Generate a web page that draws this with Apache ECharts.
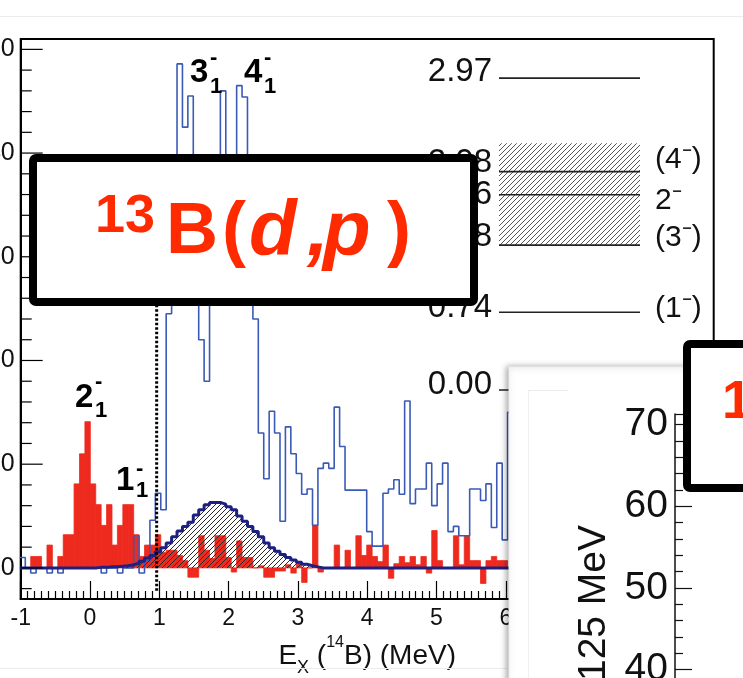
<!DOCTYPE html>
<html lang="en">
<head>
<meta charset="UTF-8">
<title>13B(d,p)</title>
<script src="https://cdn.jsdelivr.net/npm/echarts@6.0.0/dist/echarts.min.js"></script>
<style>
  html, body { margin: 0; padding: 0; background: #fff; }
  #main { width: 743px; height: 678px; }
</style>
</head>
<body>
<div id="main"></div>
<script>
// histogram binning (MeV)
var binStart = -1.012;
var binW = 0.0782;

// blue outline histogram, one value per bin
var blueCounts = [
  1.0, 0, -0.5, 0, 0, -0.5, 0, -0.5, 0, 0,
  0, 0, 0, 0, 0, -0.5, 0, 0, -0.5, 0,
  0, 3.1, -0.5, 0.7, 4.6, 7.2, 5.6, 24.5, 33, 48.6,
  42.5, 45.5, 35, 22.0, 18.0, 30, 35, 46.0, 36, 39.8,
  46.5, 45.4, 32, 24.0, 13.0, 8.6, 15.1, 13.0, 4.5, 13.6,
  11.0, 9.1, 7.1, 7.6, 4.1, 9.6, 10.1, 9.6, 15.5, 11.7,
  7.5, 7.5, 7.5, 7.5, 3.5, 2.1, 2.1, 7.2, 7.6, 8.5,
  7.1, 16.1, 6.2, 7.6, 7.6, 10.1, 6.0, 8.1, 10.1, 3.5,
  4.0, 3.1, 3.1, 7.6, 7.6, 6.5, 8.1, 3.9, 10.1, 2.7,
  15.0
];

// red filled histogram
var redCounts = [
  0, 0, 1.1, 1.1, 0, 2.2, 0, 1.1, 3.2, 3.2,
  8.1, 11.0, 14.1, 8.1, 6.1, 4.1, 6.1, 2.2, 4.1, 6.1,
  6.1, 3.2, 1.1, 2.2, 2.2, 3.2, 1.5, 1.7, 1.7, 1.2,
  0.7, -0.9, -0.9, 3.1, 1.7, 0.9, 3.1, 3.1, 1.0, -0.4,
  2.6, 1.0, 1.0, 0, 0.2, -0.9, -0.9, -0.3, -0.3, 0.3,
  -0.5, 0.6, -1.4, 0, 4.1, -0.4, 0, 0, 2.2, 0,
  1.7, 0, 3.1, 1.2, 2.2, 1.1, 0.6, 2.2, -1.0, 0.4,
  1.1, 0.5, 1.1, 0.3, 1.1, -0.5, 3.6, 0.7, 0, 0,
  3.1, 0.3, 3.1, 0.7, 0.7, -1.5, 0.7, 1.1, 0.7, 0.7
];

// navy background estimate (hatched)
var bgCounts = [
  0, 0, 0, 0, 0, 0, 0, 0, 0, 0,
  0, 0, 0, 0, 0.05, 0.05, 0.1, 0.1, 0.15, 0.2,
  0.3, 0.45, 0.65, 0.95, 1.2, 1.55, 1.95, 2.4, 3.0, 3.55,
  4.0, 4.4, 5.1, 5.6, 6.1, 6.3, 6.3, 6.15, 5.9, 5.6,
  5.0, 4.5, 4.0, 3.5, 3.0, 2.4, 1.95, 1.6, 1.3, 1.0,
  0.75, 0.55, 0.35, 0.2, 0.1, 0, 0, 0, 0, 0,
  0, 0, 0, 0, 0, 0, 0, 0, 0, 0,
  0, 0, 0, 0, 0, 0, 0, 0, 0, 0,
  0, 0, 0, 0, 0, 0, 0, 0, 0, 0,
  0
];

// y axis ticks of the spectrum
var yMajorTicks = [0, 10, 20, 30, 40, 50];
var yMinorTicks = [-2, 0, 2, 4, 6, 8, 10, 12, 14, 16, 18, 20, 22, 24, 26, 28, 30, 32, 34, 36, 38, 40, 42, 44, 46, 48, 50];

// level scheme of 14B
var levelEnergy = [2.97, 2.08, 1.86, 1.38, 0.74, 0.00];
var levelText = ['2.97', '2.08', '1.86', '1.38', '0.74', '0.00'];
var levelSpin = ['', '(4\u207B)', '2\u207B', '(3\u207B)', '(1\u207B)', ''];
var levelBand = [1.38, 2.35];

// dotted threshold line
var threshold = 0.962;

var FONT = '"Liberation Sans", Arial, sans-serif';
var RED = '#ee2a1e';
var BLUE = '#3a5ab6';
var NAVY = '#1c2080';

function hatch(step, color) {
  var c = document.createElement('canvas');
  c.width = step; c.height = step;
  var g = c.getContext('2d');
  g.strokeStyle = color;
  g.lineWidth = 1;
  g.beginPath();
  g.moveTo(0, step); g.lineTo(step, 0);
  g.moveTo(-1, 1); g.lineTo(1, -1);
  g.moveTo(step - 1, step + 1); g.lineTo(step + 1, step - 1);
  g.stroke();
  return { image: c, repeat: 'repeat' };
}

function stepData(vals) {
  var pts = vals.map(function (v, j) { return [binStart + binW * j, v]; });
  pts.push([binStart + binW * vals.length, vals[vals.length - 1]]);
  return pts;
}

var chart = echarts.init(document.getElementById('main'));

// label pieces for the peaks (digit, subscript 1, superscript minus)
function peak(d, x, y, dySub, dySup) {
  return [
    { type: 'text', x: x, y: y, z: 5, style: { text: d, fill: '#000', font: 'bold 33px ' + FONT, verticalAlign: 'middle' } },
    { type: 'text', x: x + 20, y: y + dySub, z: 5, style: { text: '1', fill: '#000', font: 'bold 22px ' + FONT, verticalAlign: 'middle' } },
    { type: 'text', x: x + 20, y: y + dySup, z: 5, style: { text: '-', fill: '#000', font: 'bold 22px ' + FONT, verticalAlign: 'middle' } }
  ];
}

var graphics = [];
// faint page edges
graphics.push({ type: 'line', z: 1, shape: { x1: 0, y1: 16.5, x2: 743, y2: 16.5 }, style: { stroke: '#ececec', lineWidth: 1 } });
graphics.push({ type: 'line', z: 1, shape: { x1: 0, y1: 668.5, x2: 507, y2: 668.5 }, style: { stroke: '#ececec', lineWidth: 1 } });

graphics = graphics.concat(peak('3', 190, 73, 14, -15));
graphics = graphics.concat(peak('4', 244, 73, 14, -15));
graphics = graphics.concat(peak('2', 75, 398, 13, -16));
graphics = graphics.concat(peak('1', 116, 481, 10, -12));

// bottom-right panel (second figure)
graphics.push({ type: 'rect', z: 10, shape: { x: 509, y: 367, width: 300, height: 400 },
  style: { fill: '#fff', stroke: '#eeeeee', lineWidth: 1, shadowBlur: 6, shadowOffsetX: -2, shadowColor: 'rgba(0,0,0,0.35)' } });
graphics.push({ type: 'line', z: 11, shape: { x1: 528.5, y1: 390, x2: 528.5, y2: 678 }, style: { stroke: '#f0f0f0', lineWidth: 1 } });
graphics.push({ type: 'line', z: 11, shape: { x1: 528, y1: 390.5, x2: 568, y2: 390.5 }, style: { stroke: '#ebebeb', lineWidth: 1 } });
graphics.push({ type: 'text', z: 21, x: 594, y: 603, rotation: Math.PI / 2,
  style: { text: '125 MeV', fill: '#111', font: '39px ' + FONT, align: 'center', verticalAlign: 'middle' } });

// top-right box
graphics.push({ type: 'rect', z: 30, shape: { x: 687, y: 344, width: 200, height: 144, r: 3 },
  style: { fill: '#fff', stroke: '#000', lineWidth: 8 } });
graphics.push({ type: 'text', z: 31, x: 722, y: 403,
  style: { text: '13', fill: '#ff2a00', font: 'bold 54px ' + FONT, verticalAlign: 'middle' } });

// main reaction box
graphics.push({ type: 'rect', z: 30, shape: { x: 33, y: 158, width: 441, height: 144, r: 3 },
  style: { fill: '#fff', stroke: '#000', lineWidth: 8 } });
var boxParts = [
  ['13', 95, 217, 'bold 54px'],
  ['B', 166, 233, 'bold 72px'],
  ['(', 222, 233, 'bold 72px'],
  ['d', 249, 233, 'italic bold 78px'],
  [',', 307, 233, 'italic bold 78px'],
  ['p', 323, 233, 'italic bold 78px'],
  [')', 387, 233, 'bold 72px']
];
boxParts.forEach(function (b) {
  graphics.push({ type: 'text', z: 31, x: b[1], y: b[2],
    style: { text: b[0], fill: '#ff2a00', font: b[3] + ' ' + FONT, verticalAlign: 'middle' } });
});

var leftDy = [-6, -9, 0, -8, -4, -5];
var spinDy = [0, -12, 6, -7, -4, 0];

var option = {
  animation: false,
  backgroundColor: '#fff',
  grid: [
    { left: 20.7, right: 743 - 713.7, top: 39, bottom: 678 - 599, outerBoundsMode: 'none', containLabel: false,
      show: true, borderColor: '#000', borderWidth: 2, backgroundColor: 'transparent' },
    { left: 675, top: 414, width: 60, height: 337.4, outerBoundsMode: 'none', containLabel: false },
    { left: 499, top: 54, width: 141, height: 336, outerBoundsMode: 'none', containLabel: false }
  ],
  xAxis: [
    {
      type: 'value', gridIndex: 0, min: -1, max: 9, interval: 1,
      axisLine: { show: true, onZero: false, lineStyle: { color: '#000', width: 2 } },
      axisTick: { inside: true, length: 18, lineStyle: { color: '#000', width: 1.2 } },
      minorTick: { show: true, splitNumber: 10, length: 8, lineStyle: { color: '#000', width: 1.2 } },
      splitLine: { show: false },
      axisLabel: { fontSize: 23, color: '#111', fontFamily: FONT, margin: 8 },
      name: '{e|E}{s|X} ({p|14}B) (MeV)',
      nameLocation: 'middle', nameGap: 21,
      nameTextStyle: {
        color: '#111', fontFamily: FONT, fontSize: 28,
        rich: {
          e: { fontSize: 28, fontFamily: FONT, color: '#111', lineHeight: 42 },
          s: { fontSize: 18, fontFamily: FONT, color: '#111', lineHeight: 18, verticalAlign: 'bottom' },
          p: { fontSize: 16, fontFamily: FONT, color: '#111', lineHeight: 26, verticalAlign: 'top' }
        }
      }
    },
    { type: 'value', gridIndex: 1, show: false, min: 0, max: 1 },
    { type: 'value', gridIndex: 2, show: false, min: 0, max: 1 }
  ],
  yAxis: [
    {
      type: 'value', gridIndex: 0, min: -3, max: 51,
      axisLine: { show: true, onZero: false, lineStyle: { color: '#000', width: 2 } },
      axisTick: { show: false },
      axisLabel: { fontSize: 25, color: '#111', fontFamily: FONT, margin: 6, customValues: yMajorTicks },
      splitLine: { show: false }
    },
    {
      type: 'value', gridIndex: 1, min: 30, max: 71.3, interval: 10, z: 20,
      axisLine: { show: true, onZero: false, lineStyle: { color: '#111', width: 1.5 } },
      axisTick: { inside: true, length: 17, lineStyle: { color: '#111', width: 1.2 } },
      minorTick: { show: true, splitNumber: 5, length: 8, lineStyle: { color: '#111', width: 1.2 } },
      axisLabel: { fontSize: 39, color: '#111', fontFamily: FONT, margin: 7, showMaxLabel: false },
      splitLine: { show: false }
    },
    { type: 'value', gridIndex: 2, show: false, min: 0, max: 3.2 }
  ],
  series: [
    {
      // inward y ticks of the spectrum, placed through the axis scale
      type: 'custom', xAxisIndex: 0, yAxisIndex: 0, z: 6, clip: false, silent: true,
      data: yMinorTicks.map(function (v) { return [-1, v]; }),
      renderItem: function (params, api) {
        var v = api.value(1);
        var p = api.coord([-1, v]);
        var len = yMajorTicks.indexOf(v) >= 0 ? 22 : 11;
        return { type: 'line', shape: { x1: p[0], y1: p[1], x2: p[0] + len, y2: p[1] },
          style: { stroke: '#000', lineWidth: 1.2 } };
      }
    },
    {
      type: 'custom', xAxisIndex: 0, yAxisIndex: 0, z: 2, clip: true,
      data: redCounts.map(function (v, j) { return [binStart + binW * j, v]; }),
      renderItem: function (params, api) {
        var x0 = api.value(0), v = api.value(1);
        var p0 = api.coord([x0, 0]);
        var p1 = api.coord([x0 + binW, v]);
        return {
          type: 'rect',
          shape: { x: p0[0], y: Math.min(p0[1], p1[1]), width: p1[0] - p0[0], height: Math.abs(p1[1] - p0[1]) },
          style: { fill: RED, stroke: RED, lineWidth: 0.8 }
        };
      }
    },
    {
      type: 'line', xAxisIndex: 0, yAxisIndex: 0, z: 3, step: 'end', showSymbol: false, symbol: 'none',
      data: stepData(blueCounts),
      lineStyle: { color: BLUE, width: 1.6 }
    },
    {
      type: 'line', xAxisIndex: 0, yAxisIndex: 0, z: 4, step: 'end', showSymbol: false, symbol: 'none',
      data: stepData(bgCounts),
      lineStyle: { color: NAVY, width: 3 },
      areaStyle: { color: hatch(5, '#2a2a2a'), opacity: 1, origin: 0 }
    },
    {
      type: 'line', xAxisIndex: 0, yAxisIndex: 0, z: 5, showSymbol: false, symbol: 'none',
      data: [[threshold, -2.2], [threshold, 26]],
      lineStyle: { color: '#000', width: 3, type: [2.5, 2] }
    },
    { type: 'line', xAxisIndex: 1, yAxisIndex: 1, data: [] },
    {
      type: 'custom', xAxisIndex: 2, yAxisIndex: 2, z: 6, clip: false,
      data: [levelBand],
      renderItem: function (params, api) {
        var a = api.coord([0, api.value(1)]);
        var b = api.coord([1, api.value(0)]);
        return { type: 'rect', shape: { x: a[0], y: a[1], width: b[0] - a[0], height: b[1] - a[1] },
          style: { fill: hatch(5, '#555') } };
      }
    },
    {
      type: 'custom', xAxisIndex: 2, yAxisIndex: 2, z: 7, clip: false,
      data: levelEnergy.map(function (e, i) { return [i, e]; }),
      renderItem: function (params, api) {
        var i = api.value(0), e = api.value(1);
        var a = api.coord([0, e]), b = api.coord([1, e]);
        var kids = [
          { type: 'line', shape: { x1: a[0], y1: a[1], x2: b[0], y2: b[1] }, style: { stroke: '#222', lineWidth: 1.6 } },
          { type: 'text', x: a[0] - 7, y: a[1] + leftDy[i],
            style: { text: levelText[i], fill: '#111', font: '33px ' + FONT, align: 'right', verticalAlign: 'middle' } }
        ];
        if (levelSpin[i]) {
          kids.push({ type: 'text', x: b[0] + 15, y: a[1] + spinDy[i],
            style: { text: levelSpin[i], fill: '#111', font: '30px ' + FONT, align: 'left', verticalAlign: 'middle' } });
        }
        return { type: 'group', children: kids };
      }
    }
  ],
  graphic: graphics
};
chart.setOption(option);
</script>
</body>
</html>
